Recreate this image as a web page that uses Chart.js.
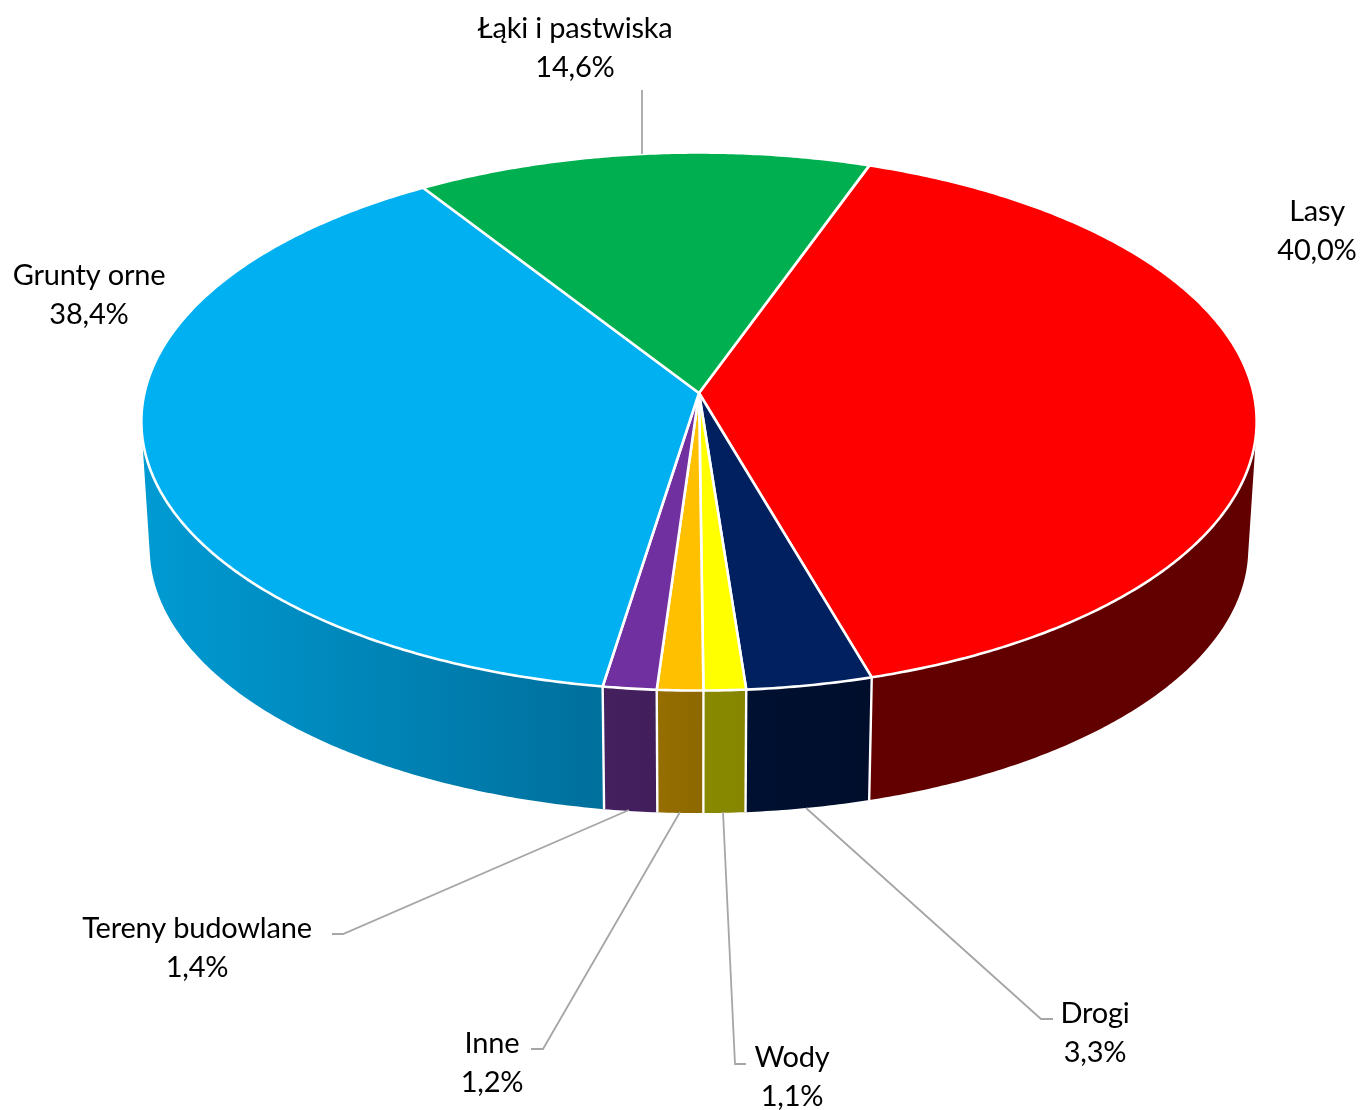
<!DOCTYPE html>
<html lang="pl">
<head>
<meta charset="utf-8">
<title>Struktura użytkowania gruntów</title>
<style>
html,body{margin:0;padding:0;background:#fff}
canvas{display:block}
</style>
<script src="https://cdn.jsdelivr.net/npm/chart.js@4/dist/chart.umd.min.js"></script>
</head>
<body>
<canvas id="c" width="1361" height="1110"></canvas>
<script>
const categories = ['Lasy','Drogi','Wody','Inne','Tereny budowlane','Grunty orne','Łąki i pastwiska'];
const shares = [40.0,3.3,1.1,1.2,1.4,38.4,14.6];
const topColors = ['#FF0000','#002060','#FFFF00','#FFC000','#7030A0','#00B0F0','#00B050'];
const wallColorsLeft = ['#660000','#001030','#8A8A00','#966E00','#45205F','#009AD2','#006A30'];
const wallColorsRight = ['#620000','#000E2C','#858500','#8C6800','#421E5B','#006F9C','#006A30'];
const labelCenters = [[1317,221],[1095,1023],[792,1067],[492,1053],[197,938],[89,285],[575,38]];
const leaderLines = [
  null,
  [[1053,1019],[1041,1019],[806,808]],
  [[746,1064],[735,1064],[723,812]],
  [[531,1049],[543,1049],[680,812]],
  [[332,934],[343,934],[629,810]],
  null,
  [[642,90],[642,154]]
];

// Perspective view of the pie's disc
const view = {cx:699, cy:393, A:554.5, B:266, p:0.1061, wallScale:0.985, wallShift:132.9};
function rim(a){
  const u=Math.cos(a), v=Math.sin(a), d=1-view.p*v;
  return [view.cx+view.A*u/d, view.cy+view.B*v/d];
}
function lower(pt){
  return [view.cx+(pt[0]-view.cx)*view.wallScale, pt[1]*view.wallScale+view.wallShift];
}
function steps(s,e){ return Math.max(2,Math.ceil((e-s)/(Math.PI/360))); }

function wedgeDraw(ctx){
  const s=this.startAngle,e=this.endAngle,n=steps(s,e);
  ctx.save();
  ctx.beginPath();
  ctx.moveTo(view.cx,view.cy);
  for(let i=0;i<=n;i++){const p=rim(s+(e-s)*i/n);ctx.lineTo(p[0],p[1]);}
  ctx.closePath();
  ctx.fillStyle=this.options.backgroundColor;
  ctx.fill();
  ctx.strokeStyle='#fff';
  ctx.lineWidth=2.6;
  ctx.lineJoin='round';
  ctx.stroke();
  ctx.restore();
}

function addQuad(ctx,pts){
  let area=0;
  pts.forEach((p,i)=>{const q=pts[(i+1)%4];area+=p[0]*q[1]-q[0]*p[1];});
  const order=area<0?pts.slice().reverse():pts;
  order.forEach((p,i)=>i?ctx.lineTo(p[0],p[1]):ctx.moveTo(p[0],p[1]));
  ctx.closePath();
}

const pie3d = {
  id:'pie3d',
  beforeDatasetsDraw(chart){
    const ctx=chart.ctx, arcs=chart.getDatasetMeta(0).data;
    arcs.forEach(a=>{a.draw=wedgeDraw;});
    // side wall
    arcs.forEach((a,k)=>{
      const s=a.startAngle,e=a.endAngle,n=steps(s,e);
      const x0=lower(rim(s))[0],x1=lower(rim(e))[0];
      const l=Math.min(x0,x1),r=Math.max(x0,x1);
      const g=ctx.createLinearGradient(k===5?150:l,0,r,0);
      g.addColorStop(0,wallColorsLeft[k]);
      g.addColorStop(1,wallColorsRight[k]);
      ctx.fillStyle=g;
      ctx.beginPath();
      for(let i=0;i<n;i++){
        const p=rim(s+(e-s)*i/n),q=rim(s+(e-s)*(i+1)/n);
        addQuad(ctx,[p,q,lower(q),lower(p)]);
      }
      ctx.fill('nonzero');
    });
    // white seams between wall segments
    ctx.strokeStyle='#fff';ctx.lineWidth=2.4;
    arcs.forEach(a=>{
      const p=rim(a.endAngle),P=lower(p);
      ctx.beginPath();ctx.moveTo(p[0],p[1]);ctx.lineTo(P[0],P[1]);ctx.stroke();
    });
  },
  afterDatasetsDraw(chart){
    const ctx=chart.ctx;
    ctx.save();
    ctx.strokeStyle='#A6A6A6';ctx.lineWidth=1.8;
    leaderLines.forEach(l=>{
      if(!l)return;
      ctx.beginPath();
      l.forEach((p,i)=>i?ctx.lineTo(p[0],p[1]):ctx.moveTo(p[0],p[1]));
      ctx.stroke();
    });
    ctx.fillStyle='#000';
    ctx.font='29px Lato';
    ctx.letterSpacing='-0.2px';
    ctx.textAlign='center';ctx.textBaseline='alphabetic';
    categories.forEach((c,i)=>{
      const t=labelCenters[i];
      ctx.fillText(c,t[0],t[1]);
      ctx.fillText(shares[i].toFixed(1).replace('.',',')+'%',t[0],t[1]+39);
    });
    ctx.restore();
  }
};

new Chart(document.getElementById('c'),{
  type:'pie',
  data:{labels:categories,datasets:[{data:shares,backgroundColor:topColors,borderWidth:0}]},
  options:{
    responsive:false,animation:false,rotation:19.75,events:[],
    plugins:{legend:{display:false},tooltip:{enabled:false}}
  },
  plugins:[pie3d]
});
</script>
</body>
</html>
